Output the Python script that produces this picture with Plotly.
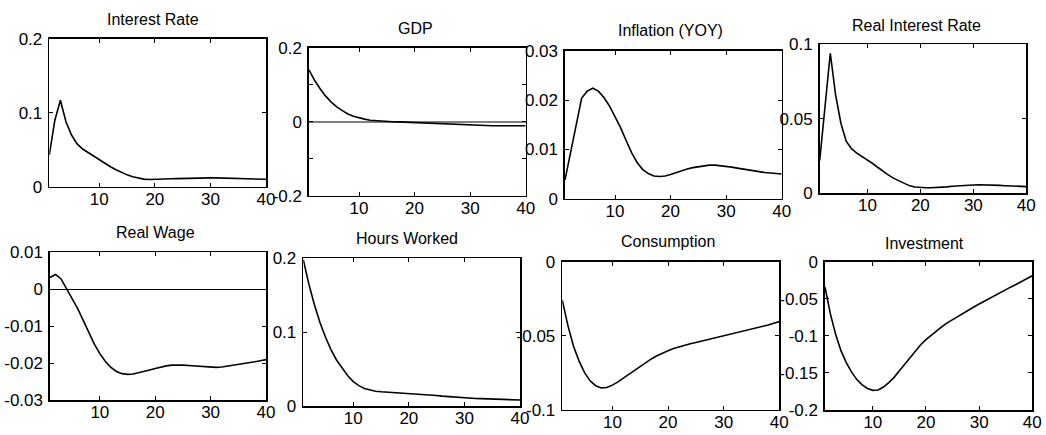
import plotly.graph_objects as go

W, H = 1046, 435

periods = list(range(1, 41))

interest_rate = [0.043, 0.090, 0.117, 0.088, 0.070, 0.058, 0.051, 0.046, 0.042, 0.037,
                 0.032, 0.027, 0.023, 0.019, 0.016, 0.0135, 0.0115, 0.0103, 0.0098, 0.0098,
                 0.0100, 0.0103, 0.0107, 0.0110, 0.0113, 0.0116, 0.0118, 0.0120, 0.0120, 0.0120,
                 0.0119, 0.0117, 0.0114, 0.0111, 0.0108, 0.0106, 0.0104, 0.0102, 0.0101, 0.0100]

gdp = [0.140, 0.112, 0.089, 0.069, 0.053, 0.040, 0.030, 0.021, 0.015, 0.010,
       0.007, 0.004, 0.0025, 0.0012, 0.0004, 0.0, -0.0006, -0.0012, -0.0018, -0.0025,
       -0.0032, -0.0040, -0.0048, -0.0056, -0.0064, -0.0072, -0.0080, -0.0088, -0.0095, -0.0100,
       -0.0104, -0.0106, -0.0107, -0.0108, -0.0108, -0.0108, -0.0108, -0.0108, -0.0108, -0.0108]

inflation = [0.0038, 0.0095, 0.0150, 0.0204, 0.0218, 0.0224, 0.0218, 0.0205, 0.0188, 0.0167,
             0.0144, 0.0118, 0.0093, 0.0073, 0.0059, 0.0051, 0.0046, 0.0045, 0.0046, 0.0049,
             0.0053, 0.0056, 0.0060, 0.0063, 0.0065, 0.0067, 0.0068, 0.0068, 0.0067, 0.0066,
             0.0064, 0.0062, 0.0060, 0.0058, 0.0056, 0.0054, 0.0053, 0.0052, 0.0051, 0.0050]

real_interest_rate = [0.022, 0.058, 0.094, 0.066, 0.047, 0.035, 0.030, 0.027, 0.0248, 0.0225,
                      0.0200, 0.0173, 0.0145, 0.0122, 0.0100, 0.0082, 0.0065, 0.0050, 0.0042, 0.0038,
                      0.0037, 0.0037, 0.0038, 0.0040, 0.0043, 0.0047, 0.0050, 0.0053, 0.0055, 0.0056,
                      0.0057, 0.0057, 0.0056, 0.0055, 0.0053, 0.0051, 0.0049, 0.0047, 0.0046, 0.0045]

real_wage = [0.0032, 0.0040, 0.0028, 0.0002, -0.0024, -0.0052, -0.0084, -0.0117, -0.0148, -0.0174,
             -0.0195, -0.0211, -0.0222, -0.0228, -0.0230, -0.0229, -0.0226, -0.0222, -0.0218, -0.0214,
             -0.0210, -0.0207, -0.0205, -0.0204, -0.0205, -0.0206, -0.0207, -0.0209, -0.0210, -0.0211,
             -0.0211, -0.0210, -0.0208, -0.0206, -0.0204, -0.0201, -0.0199, -0.0196, -0.0193, -0.0190]

hours_worked = [0.198, 0.165, 0.137, 0.113, 0.093, 0.076, 0.062, 0.051, 0.041, 0.033,
                0.0275, 0.0237, 0.0215, 0.0200, 0.0192, 0.0188, 0.0183, 0.0180, 0.0176, 0.0172,
                0.0167, 0.0162, 0.0157, 0.0150, 0.0142, 0.0134, 0.0127, 0.0120, 0.0114, 0.0109,
                0.0105, 0.0102, 0.0100, 0.0098, 0.0096, 0.0093, 0.0090, 0.0087, 0.0084, 0.0081]

consumption = [-0.026, -0.043, -0.057, -0.067, -0.075, -0.0805, -0.0838, -0.0853, -0.0850, -0.0834,
               -0.0812, -0.0786, -0.0759, -0.0732, -0.0706, -0.0681, -0.0657, -0.0636, -0.0617, -0.0601,
               -0.0587, -0.0575, -0.0565, -0.0555, -0.0546, -0.0537, -0.0528, -0.0520, -0.0511, -0.0503,
               -0.0494, -0.0485, -0.0476, -0.0467, -0.0458, -0.0449, -0.0439, -0.0428, -0.0416, -0.0405]

investment = [-0.034, -0.070, -0.098, -0.120, -0.136, -0.149, -0.159, -0.166, -0.171, -0.1735,
              -0.173, -0.169, -0.163, -0.156, -0.147, -0.138, -0.129, -0.120, -0.112, -0.105,
              -0.099, -0.093, -0.0875, -0.0825, -0.078, -0.0737, -0.0695, -0.0653, -0.0611, -0.057,
              -0.053, -0.049, -0.045, -0.041, -0.0375, -0.034, -0.0305, -0.027, -0.023, -0.019]

titles = ["Interest Rate", "GDP", "Inflation (YOY)", "Real Interest Rate",
          "Real Wage", "Hours Worked", "Consumption", "Investment"]
series = [interest_rate, gdp, inflation, real_interest_rate,
          real_wage, hours_worked, consumption, investment]

x_tick_vals = [10, 20, 30, 40]
x_tick_text = ["10", "20", "30", "40"]

y_ranges = [[0, 0.2], [-0.2, 0.2], [0, 0.03], [0, 0.1],
            [-0.03, 0.01], [0, 0.2], [-0.1, 0], [-0.2, 0]]
y_tick_vals = [[0, 0.1, 0.2], [-0.2, -0.1, 0, 0.1, 0.2], [0, 0.01, 0.02, 0.03], [0, 0.05, 0.1],
               [-0.03, -0.02, -0.01, 0, 0.01], [0, 0.1, 0.2], [-0.1, -0.05, 0],
               [-0.2, -0.15, -0.1, -0.05, 0]]
y_tick_text = [["0", "0.1", "0.2"], ["-0.2", "", "0", "", "0.2"], ["0", "0.01", "0.02", "0.03"],
               ["0", "0.05", "0.1"], ["-0.03", "-0.02", "-0.01", "0", "0.01"],
               ["0", "0.1", "0.2"], ["-0.1", "-0.05", "0"], ["-0.2", "-0.15", "-0.1", "-0.05", "0"]]

# layout: panel boxes in pixels (left, right, top, bottom) and title centres
boxes = [(49.3, 266.0, 39.0, 186.7), (309.0, 525.7, 47.7, 195.7),
         (565.0, 781.7, 50.7, 198.7), (819.7, 1026.3, 44.3, 193.3),
         (50.0, 266.0, 252.3, 400.3), (303.3, 520.0, 258.3, 406.0),
         (562.3, 779.3, 261.7, 409.7), (825.0, 1032.3, 261.7, 410.0)]
title_pos = [(153, 19), (415, 28.3), (670, 30.7), (916.7, 25.7),
             (155, 232), (406.7, 238.3), (667.7, 241), (924.3, 243.3)]
zero_lines = {1: ("#808080", 2), 4: ("black", 1)}

FONT = "Liberation Sans, Arial, sans-serif"
tick_font = dict(family=FONT, size=17, color="black")

fig = go.Figure()
layout = dict(width=W, height=H, margin=dict(l=0, r=0, t=0, b=0, autoexpand=False),
              paper_bgcolor="white", plot_bgcolor="white", showlegend=False,
              font=dict(family=FONT, color="black"))
annotations = []

for i, (title, ys) in enumerate(zip(titles, series)):
    n = i + 1
    xname = "x" if n == 1 else f"x{n}"
    yname = "y" if n == 1 else f"y{n}"
    fig.add_trace(go.Scatter(x=periods, y=ys, mode="lines", xaxis=xname, yaxis=yname,
                             line=dict(color="black", width=1.6), hoverinfo="skip"))
    l, r, t, b = boxes[i]
    zl = zero_lines.get(i)
    xa = dict(domain=[l / W, r / W], range=[1, 40], anchor=yname, automargin=False,
              tickmode="array", tickvals=x_tick_vals, ticktext=x_tick_text,
              ticks="inside", ticklen=4, tickcolor="black", tickwidth=1,
              showline=True, linecolor="black", linewidth=1.6, mirror="ticks",
              showgrid=False, zeroline=False, tickfont=tick_font, ticklabelstandoff=-4,
              fixedrange=True)
    ya = dict(domain=[1 - b / H, 1 - t / H], range=y_ranges[i], anchor=xname, automargin=False,
              tickmode="array", tickvals=y_tick_vals[i], ticktext=y_tick_text[i],
              ticks="inside", ticklen=4, tickcolor="black", tickwidth=1,
              showline=True, linecolor="black", linewidth=1.6, mirror="ticks",
              showgrid=False, tickfont=tick_font, ticklabelstandoff=2,
              zeroline=zl is not None,
              zerolinecolor=zl[0] if zl else "black",
              zerolinewidth=zl[1] if zl else 1,
              fixedrange=True)
    layout["xaxis" if n == 1 else f"xaxis{n}"] = xa
    layout["yaxis" if n == 1 else f"yaxis{n}"] = ya
    cx, cy = title_pos[i]
    annotations.append(dict(text=title, x=cx / W, y=1 - cy / H, xref="paper", yref="paper",
                            xanchor="center", yanchor="middle", showarrow=False,
                            font=dict(family=FONT, size=16, color="black")))

layout["annotations"] = annotations
fig.update_layout(**layout)
fig.write_html("out.html", config={"displayModeBar": False, "staticPlot": True},
               post_script="document.body.style.margin='0';document.body.style.overflow='hidden';")
